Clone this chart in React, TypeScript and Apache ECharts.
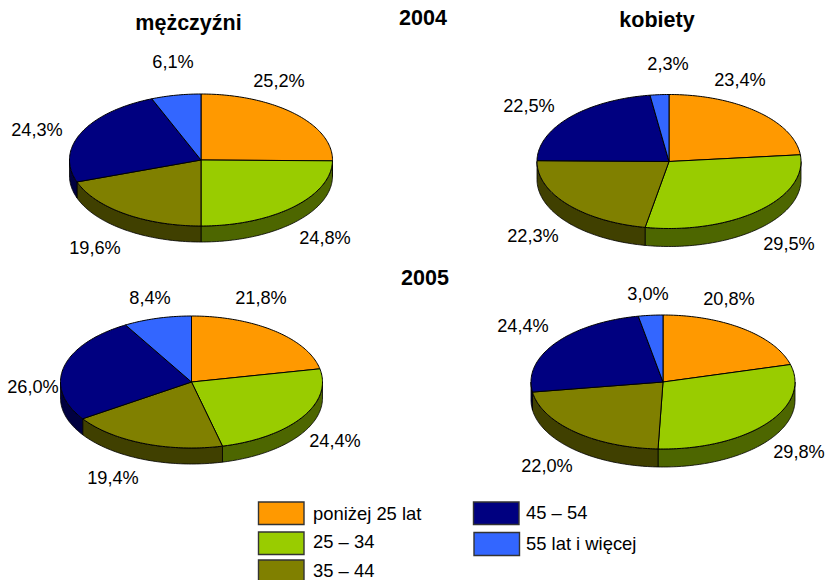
import React, { useEffect, useRef } from "react";
import * as echarts from "echarts";

const categories = ["poniżej 25 lat", "25 – 34", "35 – 44", "45 – 54", "55 lat i więcej"];
const men2004 = [25.2, 24.8, 19.6, 24.3, 6.1];
const women2004 = [23.4, 29.5, 22.3, 22.5, 2.3];
const men2005 = [21.8, 24.4, 19.4, 26.0, 8.4];
const women2005 = [20.8, 29.8, 22.0, 24.4, 3.0];

const topColors = ["#FF9900", "#99CC00", "#808000", "#000080", "#3366FF"];
const wallColors = ["#804D00", "#4D6600", "#404000", "#000040", "#1A3380"];
const FONT = '"Liberation Sans", Arial, sans-serif';

const pies = [
  { name: "mężczyźni 2004", values: men2004, cx: 201, cy: 160, rx: 131.5, ry: 66, depth: 16,
    labels: [[279, 81], [325, 238], [95, 248], [37, 130], [173, 62]] },
  { name: "kobiety 2004", values: women2004, cx: 669, cy: 161.5, rx: 132, ry: 67, depth: 18,
    labels: [[740, 80], [789, 244], [533, 236], [529, 106], [668, 64]] },
  { name: "mężczyźni 2005", values: men2005, cx: 191.5, cy: 382, rx: 131, ry: 66, depth: 16,
    labels: [[261, 298], [335, 441], [113, 478], [33, 387], [150, 298]] },
  { name: "kobiety 2005", values: women2005, cx: 663, cy: 382, rx: 132, ry: 67, depth: 18,
    labels: [[729, 299], [799, 452], [547, 466], [523, 326], [648, 294]] },
];

const titles = [
  { text: "mężczyźni", x: 188.5, y: 23 },
  { text: "2004", x: 423, y: 18 },
  { text: "kobiety", x: 657, y: 20 },
  { text: "2005", x: 425, y: 278 },
];

const legendBoxes = [
  { x: 258.5, y: 502, w: 45.5, h: 22.5, tx: 313, ty: 513 },
  { x: 258.5, y: 532, w: 45.5, h: 22.5, tx: 313, ty: 541 },
  { x: 258.5, y: 560, w: 45.5, h: 22.5, tx: 313, ty: 570 },
  { x: 473.5, y: 502, w: 45.5, h: 22.5, tx: 526, ty: 512 },
  { x: 474, y: 532.5, w: 45.5, h: 23, tx: 526, ty: 543 },
];

function arc(p: any, a0: number, a1: number, dy = 0): number[][] {
  const n = Math.max(2, Math.ceil((a1 - a0) / 0.02));
  const pts: number[][] = [];
  for (let i = 0; i <= n; i++) {
    const t = a0 + ((a1 - a0) * i) / n;
    pts.push([p.cx + p.rx * Math.sin(t), p.cy - p.ry * Math.cos(t) + dy]);
  }
  return pts;
}

function makeSeries(p: any) {
  const total = p.values.reduce((s: number, v: number) => s + v, 0);
  return {
    type: "custom",
    name: p.name,
    coordinateSystem: "none",
    silent: true,
    data: p.values.map((v: number, i: number) => ({ name: categories[i], value: [v] })),
    renderItem: (params: any, api: any) => {
      const i = params.dataIndex;
      const before = p.values.slice(0, i).reduce((s: number, v: number) => s + v, 0);
      const val = api.value(0);
      const a0 = (before / total) * Math.PI * 2;
      const a1 = ((before + val) / total) * Math.PI * 2;
      const children: any[] = [];
      const w0 = Math.max(a0, Math.PI / 2);
      const w1 = Math.min(a1, (Math.PI * 3) / 2);
      if (w1 > w0) {
        children.push({
          type: "polygon",
          z2: 1,
          shape: { points: [...arc(p, w0, w1), ...arc(p, w0, w1, p.depth).reverse()] },
          style: { fill: wallColors[i], stroke: "#000", lineWidth: 0.8 },
        });
      }
      children.push({
        type: "polygon",
        z2: 2,
        shape: { points: [[p.cx, p.cy], ...arc(p, a0, a1)] },
        style: { fill: topColors[i], stroke: "#000", lineWidth: 1, lineJoin: "round" },
      });
      children.push({
        type: "text",
        z2: 3,
        x: p.labels[i][0],
        y: p.labels[i][1],
        style: {
          text: val.toFixed(1).replace(".", ",") + "%",
          fontSize: 18.2,
          fontFamily: FONT,
          fill: "#000",
          align: "center",
          verticalAlign: "middle",
        },
      });
      return { type: "group", children };
    },
  };
}

export default function App() {
  const ref = useRef<HTMLDivElement>(null);
  useEffect(() => {
    const chart = echarts.init(ref.current!, undefined, { renderer: "svg" });
    const graphic: any[] = [];
    titles.forEach((t) =>
      graphic.push({
        type: "text",
        x: t.x,
        y: t.y,
        style: {
          text: t.text,
          fontSize: 21.5,
          fontWeight: "bold",
          fontFamily: FONT,
          fill: "#000",
          align: "center",
          verticalAlign: "middle",
        },
      })
    );
    legendBoxes.forEach((b, i) => {
      graphic.push({
        type: "rect",
        shape: { x: b.x, y: b.y, width: b.w, height: b.h },
        style: { fill: topColors[i], stroke: "#333", lineWidth: 1.4 },
      });
      graphic.push({
        type: "text",
        x: b.tx,
        y: b.ty,
        style: {
          text: categories[i],
          fontSize: 18.4,
          fontFamily: FONT,
          fill: "#000",
          align: "left",
          verticalAlign: "middle",
        },
      });
    });
    chart.setOption({
      animation: false,
      backgroundColor: "#fff",
      series: pies.map(makeSeries),
      graphic,
    });
    return () => chart.dispose();
  }, []);
  return <div ref={ref} style={{ position: "fixed", left: 0, top: 0, width: 825, height: 580 }} />;
}
